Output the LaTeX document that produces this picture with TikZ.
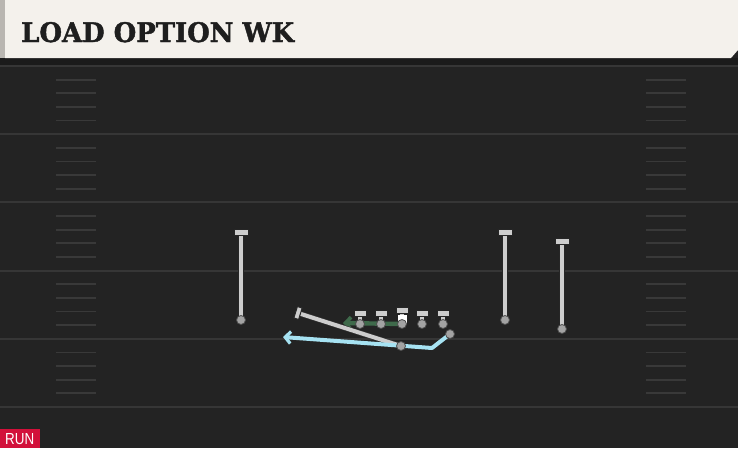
\documentclass[tikz,border=0pt]{standalone}
\usepackage{fontspec}
\newfontfamily\titlefont{DejaVu Serif}[UprightFont={* Bold}, FakeBold=1.6]
\newfontfamily\runfont{Liberation Sans}
\usetikzlibrary{arrows.meta}
\definecolor{fieldbg}{HTML}{232323}
\definecolor{bandbg}{HTML}{1B1B1B}
\definecolor{yardline}{HTML}{363636}
\definecolor{hashc}{HTML}{393939}
\definecolor{cream}{HTML}{F4F1EC}
\definecolor{edgegrey}{HTML}{B9B6B1}
\definecolor{routegrey}{HTML}{CDCDCD}
\definecolor{dotgrey}{HTML}{A3A3A3}
\definecolor{runblue}{HTML}{A6E2F2}
\definecolor{blockgreen}{HTML}{3F6A4B}
\definecolor{runred}{HTML}{D2103A}
\definecolor{titleink}{HTML}{1E1E1E}
\begin{document}
\begin{tikzpicture}[x=1pt,y=-1pt,
  yard/.style={draw=yardline, line width=2pt},
  hashmark/.style={draw=hashc, line width=1.8pt},
  route/.style={draw=black!85, double=routegrey, double distance=4.4pt, line width=1pt},
  tbar/.style={draw=black!85, fill=routegrey, line width=1pt, minimum width=14pt, minimum height=6pt, inner sep=0pt},
  olbar/.style={draw=black!85, fill=routegrey, line width=1pt, minimum width=12pt, minimum height=6pt, inner sep=0pt},
  stem/.style={draw=black!85, double=routegrey, double distance=3.6pt, line width=0.9pt},
  pdot/.style={circle, draw=black!70, fill=dotgrey, line width=0.8pt, minimum size=9pt, inner sep=0pt},
  ball/.style={fill=white, minimum size=9pt, inner sep=0pt},
  qbroute/.style={draw=black!80, double=routegrey, double distance=4pt, line width=0.6pt},
  bluepath/.style={draw=runblue, line width=4pt, line join=round, -{Straight Barb[length=5.5pt,width=12pt,line width=3.2pt]}},
  greenpath/.style={draw=blockgreen, line width=4.4pt, -{Straight Barb[length=5.5pt,width=12pt,line width=3.6pt]}}
]
\useasboundingbox (0,0) rectangle (738,448);
\fill[fieldbg] (0,0) rectangle (738,448);
% title bar
\fill[bandbg] (0,58) rectangle (738,65);
\fill[cream] (5,0) -- (738,0) -- (738,50) -- (731,58) -- (5,58) -- cycle;
\fill[edgegrey] (0,0) rectangle (5,58);
\node[anchor=base west, inner sep=0pt, text=titleink] (title) at (21,42)
  {\resizebox{273pt}{20pt}{\titlefont LOAD OPTION WK}};
% yard lines
\foreach \s in {0,...,5}
  \draw[yard] (0,{66+68.2*\s}) -- (738,{66+68.2*\s});
% hash marks
\foreach \s in {0,...,4}
  \foreach \k in {1,...,4} {
    \draw[hashmark] (56,{66+68.2*\s+13.64*\k}) -- (96,{66+68.2*\s+13.64*\k});
    \draw[hashmark] (646,{66+68.2*\s+13.64*\k}) -- (686,{66+68.2*\s+13.64*\k});
  }
% coordinates
\coordinate (wr1) at (241,320);
\coordinate (wr1e) at (241,232);
\coordinate (wr2) at (505,320);
\coordinate (wr2e) at (505,232);
\coordinate (wr3) at (562,329);
\coordinate (wr3e) at (562,241);
\coordinate (lt) at (360,324);
\coordinate (lg) at (381,324);
\coordinate (c) at (402,324);
\coordinate (rg) at (422,324);
\coordinate (rt) at (443,324);
\coordinate (lte) at (360,313);
\coordinate (lge) at (381,313);
\coordinate (ce) at (402,310);
\coordinate (rge) at (422,313);
\coordinate (rte) at (443,313);
\coordinate (ge) at (343,323);
\coordinate (qb) at (401,346);
\coordinate (qbe) at (298,313);
\coordinate (rb) at (450,334);
\coordinate (rbk) at (432,348);
\coordinate (rbe) at (283,337);
% receivers
\draw[route] (wr1) -- (wr1e);
\draw[route] (wr2) -- (wr2e);
\draw[route] (wr3) -- (wr3e);
\node[tbar] (wr1t) at (wr1e) {};
\node[tbar] (wr2t) at (wr2e) {};
\node[tbar] (wr3t) at (wr3e) {};
% line
\foreach \p in {lt,lg,c,rg,rt}
  \draw[stem] (\p) -- (\p e);
\foreach \p in {lt,lg,c,rg,rt}
  \node[olbar] (\p t) at (\p e) {};
% block arrow
\draw[greenpath] (c) -- (ge);
\node[ball] (cb) at (402,319) {};
% qb read
\draw[qbroute] (qb) -- (qbe);
\node[tbar, rotate=72.4, minimum width=12pt, minimum height=5pt] (qbt) at (qbe) {};
% running back
\draw[bluepath] (rb) -- (rbk) -- (rbe);
% dots
\foreach \p in {wr1,wr2,wr3,lt,lg,c,rg,rt,qb,rb}
  \node[pdot] (\p d) at (\p) {};
% run label
\fill[runred] (0,429) rectangle (40,448);
\node[anchor=base west, inner sep=0pt, text=white] (run) at (5,444)
  {\resizebox{29pt}{11pt}{\runfont RUN}};
\end{tikzpicture}
\end{document}
